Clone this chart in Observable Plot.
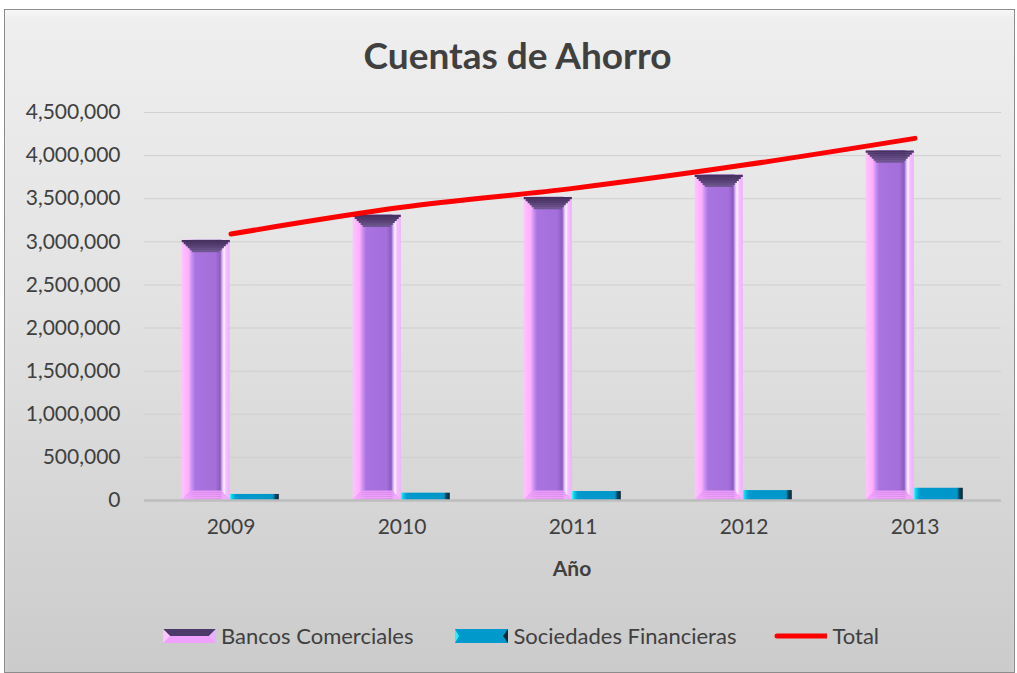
<!DOCTYPE html>
<html><head><meta charset="utf-8">
<script src="https://cdn.jsdelivr.net/npm/d3@7"></script>
<script src="https://cdn.jsdelivr.net/npm/@observablehq/plot@0.6"></script>
<style>
body{margin:0;width:1017px;height:673px;background:#fff;font-family:Lato,"Open Sans",sans-serif;overflow:hidden;position:relative;color:#404040}
#frame{position:absolute;left:4px;top:9px;width:1011px;height:664px;border:1px solid #8c8c8c;box-sizing:border-box;background:linear-gradient(#efefef 0%,#e2e2e2 45%,#cbcbcb 100%);box-shadow:inset 0 8px 8px -5px #fafafa}
#title{position:absolute;left:9px;width:1017px;top:32px;text-align:center;font-weight:bold;font-size:37px;color:#404040}
#chart{position:absolute;left:0;top:90px}
#xlabel{position:absolute;left:472px;width:200px;top:555px;text-align:center;font-weight:bold;font-size:21px}
#legend{position:absolute;top:622px;left:163px;display:flex;align-items:center;font-size:22px;white-space:nowrap}
.item{display:flex;align-items:center}
.item svg{margin-right:5px}
</style></head>
<body>
<div id="frame"></div>
<div id="title">Cuentas de Ahorro</div>
<div id="chart"></div>
<div id="xlabel">Año</div>
<div id="legend"></div>
<script>
const years = ["2009","2010","2011","2012","2013"];
const bancos = [3020000, 3312000, 3518000, 3777000, 4058000];
const sociedades = [70000, 85000, 104000, 115000, 142000];
const total = [3090000, 3400000, 3620000, 3890000, 4200000];
const yTicks = [0,500000,1000000,1500000,2000000,2500000,3000000,3500000,4000000,4500000];
const seriesNames = ["Bancos Comerciales","Sociedades Financieras","Total"];

const rowsB = years.map((y,i)=>({year:y, value:bancos[i]}));
const rowsS = years.map((y,i)=>({year:y, value:sociedades[i]}));
const rowsT = years.map((y,i)=>({year:y, value:total[i]}));

const fmt = d3.format(",");
const bL = 36.7, bR = 86.2;
const insB = {insetLeft:bL, insetRight:bR};
const insS = {insetLeft:85.2, insetRight:37.2};

// bevel bands (trapezoid built from thin ticks)
const topColors = ["#47325f","#4d3768","#533d70","#5c4579","#654d84","#6e5690"];
const botColors = ["#f2a6ff","#f0a2fc","#ee9efa","#ec9cf8","#e99af6"];
const topBevel = topColors.map((c,k)=>Plot.tickY(rowsB, {x:"year", y:"value", stroke:c, strokeWidth:2.2, dy:1+2*k, insetLeft:bL+2*k, insetRight:bR+2*k}));
const botBevel = botColors.map((c,k)=>Plot.tickY(rowsB, {x:"year", y:0, stroke:c, strokeWidth:2.2, dy:-(1+2*k), insetLeft:bL+2*k, insetRight:bR+2*k}));

const plot = Plot.plot({
  width:1017, height:500,
  marginLeft:144, marginRight:16, marginTop:22, marginBottom:90,
  style:{background:"transparent", fontFamily:"Lato, 'Open Sans', sans-serif", fontSize:"21px", color:"#404040"},
  x:{type:"band", domain:years, padding:0, label:null},
  y:{domain:[0,4500000], label:null},
  marks:[
    Plot.ruleY(yTicks.slice(1), {stroke:"#cfcfcf", strokeWidth:1}),
    Plot.axisY({ticks:yTicks, tickSize:0, tickPadding:24, tickFormat:fmt, label:null, fontSize:21}),
    Plot.axisX({tickSize:0, tickPadding:19, label:null, fontSize:21}),
    Plot.barY(rowsB, {x:"year", y:"value", fill:"url(#gradB)", ...insB}),
    ...topBevel,
    ...botBevel,
    Plot.barY(rowsS, {x:"year", y:"value", fill:"url(#gradS)", ...insS}),
    Plot.ruleY([0], {stroke:"#bdbdbd", strokeWidth:2.5}),
    Plot.lineY(rowsT, {x:"year", y:"value", stroke:"#ff0000", strokeWidth:5, strokeLinecap:"round", curve:"catmull-rom"})
  ]
});
document.getElementById("chart").appendChild(plot);

const svg = d3.select(plot);
const defs = svg.insert("defs", ":first-child");
function grad(id, stops){
  const g = defs.append("linearGradient").attr("id", id)
    .attr("x1",0).attr("y1",0).attr("x2",1).attr("y2",0);
  stops.forEach(([o,c])=>g.append("stop").attr("offset",o).attr("stop-color",c));
}
grad("gradB", [["0%","#ffc4ff"],["14%","#ffb0ff"],["22%","#c48cee"],["28%","#a973e0"],["70%","#a46fda"],["80%","#8a5cbc"],["84%","#d6b4f4"],["88%","#fff2ff"],["92%","#f4c0ff"],["100%","#f0b0ff"]]);
grad("gradS", [["0%","#20f4ff"],["6%","#00c0e6"],["12%","#0099cc"],["88%","#0096c8"],["93%","#00445c"],["100%","#0a2a38"]]);

// Legend
const legend = d3.select("#legend");
function item(swatch, text, gap){
  const it = legend.append("div").attr("class","item").style("margin-right", gap+"px");
  const s = it.append("svg").attr("width",53).attr("height",16);
  swatch(s);
  it.append("span").text(text);
}
item(s=>{
  s.append("polygon").attr("points","0,1 53,1 46,8 7,8").attr("fill","#4e3a6a");
  s.append("polygon").attr("points","7,8 46,8 53,15 0,15").attr("fill","#f0a0ff");
  s.append("polygon").attr("points","0,1 7,8 0,15").attr("fill","#ffc4ff");
  s.append("polygon").attr("points","53,1 46,8 53,15").attr("fill","#e8b0ff");
}, seriesNames[0], 42);
item(s=>{
  s.append("rect").attr("x",0).attr("y",1).attr("width",53).attr("height",14).attr("fill","#0099cc");
  s.append("polygon").attr("points","0,1 4,8 0,15").attr("fill","#20f4ff");
  s.append("polygon").attr("points","53,1 48,8 53,15").attr("fill","#0a2a38");
}, seriesNames[1], 38);
item(s=>{
  s.append("line").attr("x1",3).attr("x2",53).attr("y1",8).attr("y2",8).attr("stroke","#ff0000").attr("stroke-width",5).attr("stroke-linecap","round");
}, seriesNames[2], 0);
</script>
</body></html>
